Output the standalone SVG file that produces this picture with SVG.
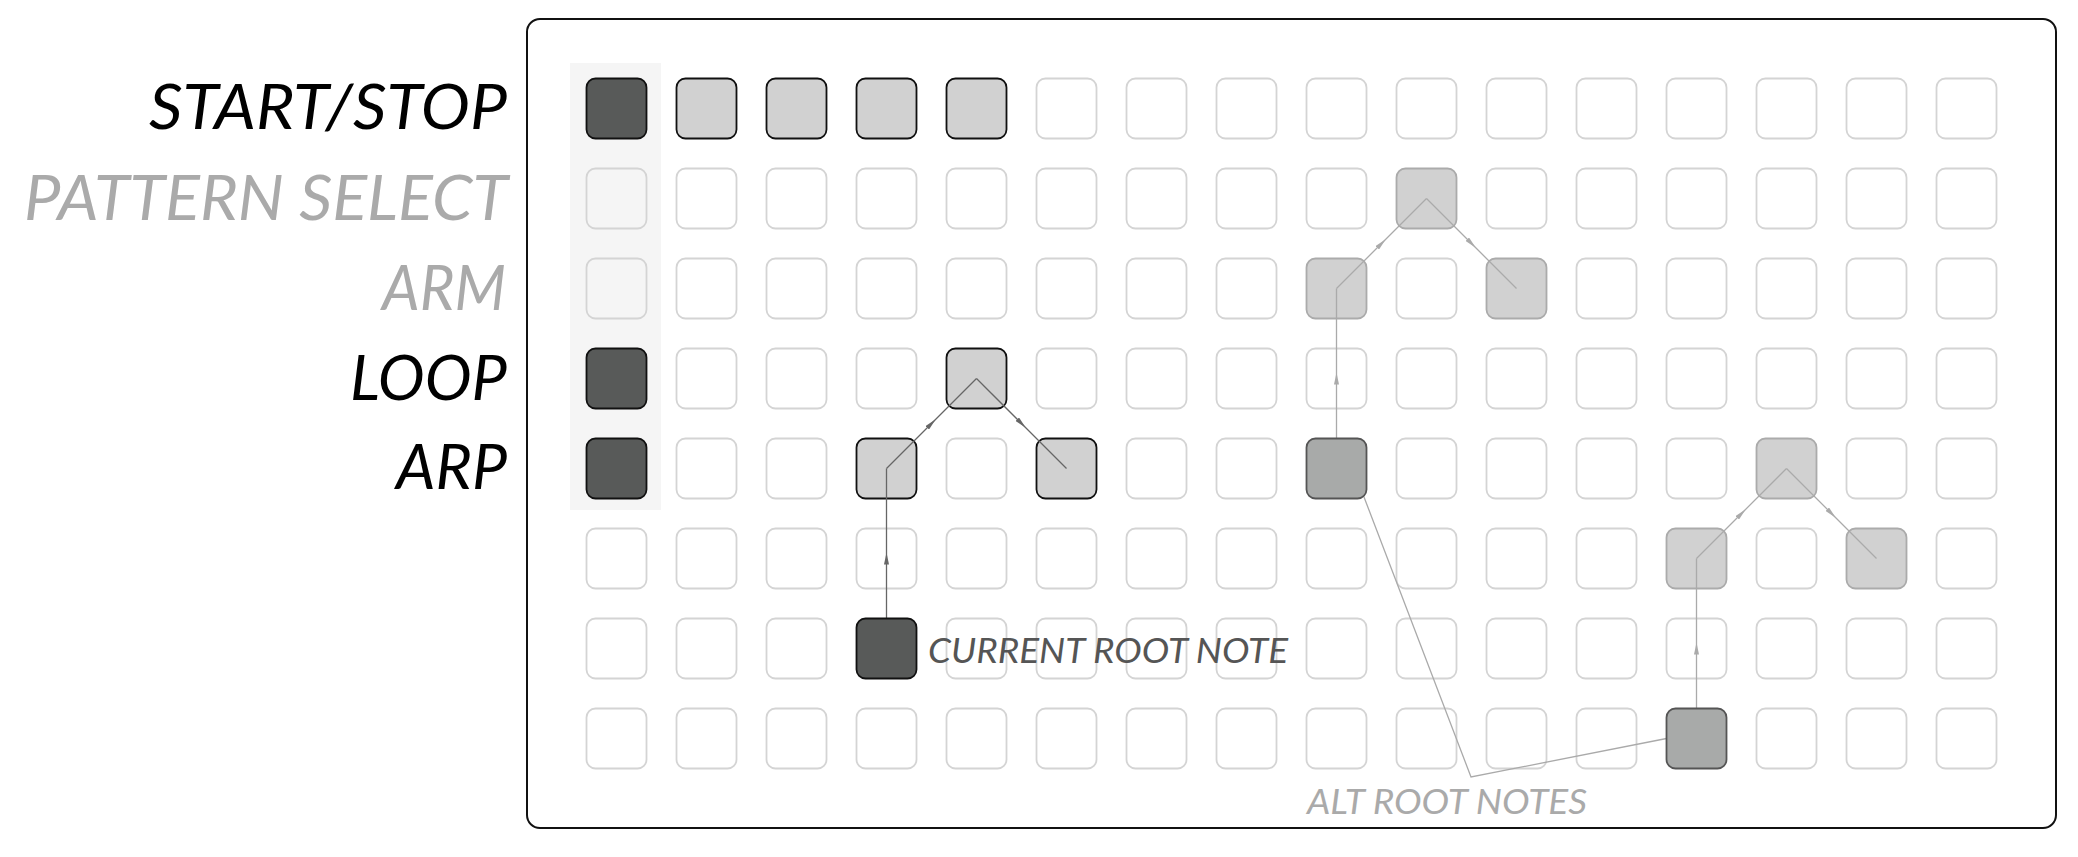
<svg xmlns="http://www.w3.org/2000/svg" xmlns:xlink="http://www.w3.org/1999/xlink" width="2078" height="857" viewBox="0 0 2078 857">
<style>
.lbl{font-family:"Lato","Open Sans","Liberation Sans",sans-serif;font-style:italic;font-weight:400}
.big{font-size:62px}
.small{font-size:34px}
.empty{fill:none;stroke:#d4d4d4;stroke-width:1.8}
.dark{fill:#585a59;stroke:#111;stroke-width:1.8}
.lite{fill:#d1d1d1;stroke:#111;stroke-width:1.8}
.liteg{fill:#d1d1d1;stroke:#ababab;stroke-width:1.8}
.rootg{fill:#a8aaa9;stroke:#555;stroke-width:1.8}
.ln{fill:none;stroke:#666;stroke-width:1.3}
.lng{fill:none;stroke:#aaa;stroke-width:1.3}
</style>
<defs>
<rect id="c" width="60" height="60" rx="9"/>
<marker id="ad" viewBox="0 0 12 5" refX="6" refY="2.5" markerWidth="12" markerHeight="5" markerUnits="userSpaceOnUse" orient="auto"><path d="M0,0 L12,2.5 L0,5 z" fill="#666"/></marker>
<marker id="ag" viewBox="0 0 12 5" refX="6" refY="2.5" markerWidth="12" markerHeight="5" markerUnits="userSpaceOnUse" orient="auto"><path d="M0,0 L12,2.5 L0,5 z" fill="#aaa"/></marker>
</defs>
<rect width="2078" height="857" fill="#fff"/>
<rect id="frame" x="527" y="19" width="1529" height="809" rx="13" fill="#fff" stroke="#111" stroke-width="2"/>
<rect id="modecol" x="570" y="63" width="91" height="447" fill="#f5f5f5"/>

<g id="labels" class="lbl">
<text class="big" x="507" y="129" text-anchor="end" fill="#000" textLength="358" lengthAdjust="spacingAndGlyphs">START/STOP</text>
<text class="big" x="508" y="220" text-anchor="end" fill="#aaa" textLength="484" lengthAdjust="spacingAndGlyphs">PATTERN SELECT</text>
<text class="big" x="506" y="310" text-anchor="end" fill="#aaa" textLength="124" lengthAdjust="spacingAndGlyphs">ARM</text>
<text class="big" x="507" y="400" text-anchor="end" fill="#000" textLength="157" lengthAdjust="spacingAndGlyphs">LOOP</text>
<text class="big" x="507" y="489" text-anchor="end" fill="#000" textLength="111" lengthAdjust="spacingAndGlyphs">ARP</text>
</g>

<g id="grid" class="empty">
<use href="#c" x="1036.5" y="78.5"/><use href="#c" x="1126.5" y="78.5"/><use href="#c" x="1216.5" y="78.5"/><use href="#c" x="1306.5" y="78.5"/><use href="#c" x="1396.5" y="78.5"/><use href="#c" x="1486.5" y="78.5"/><use href="#c" x="1576.5" y="78.5"/><use href="#c" x="1666.5" y="78.5"/><use href="#c" x="1756.5" y="78.5"/><use href="#c" x="1846.5" y="78.5"/><use href="#c" x="1936.5" y="78.5"/>
<use href="#c" x="586.5" y="168.5"/><use href="#c" x="676.5" y="168.5"/><use href="#c" x="766.5" y="168.5"/><use href="#c" x="856.5" y="168.5"/><use href="#c" x="946.5" y="168.5"/><use href="#c" x="1036.5" y="168.5"/><use href="#c" x="1126.5" y="168.5"/><use href="#c" x="1216.5" y="168.5"/><use href="#c" x="1306.5" y="168.5"/><use href="#c" x="1486.5" y="168.5"/><use href="#c" x="1576.5" y="168.5"/><use href="#c" x="1666.5" y="168.5"/><use href="#c" x="1756.5" y="168.5"/><use href="#c" x="1846.5" y="168.5"/><use href="#c" x="1936.5" y="168.5"/>
<use href="#c" x="586.5" y="258.5"/><use href="#c" x="676.5" y="258.5"/><use href="#c" x="766.5" y="258.5"/><use href="#c" x="856.5" y="258.5"/><use href="#c" x="946.5" y="258.5"/><use href="#c" x="1036.5" y="258.5"/><use href="#c" x="1126.5" y="258.5"/><use href="#c" x="1216.5" y="258.5"/><use href="#c" x="1396.5" y="258.5"/><use href="#c" x="1576.5" y="258.5"/><use href="#c" x="1666.5" y="258.5"/><use href="#c" x="1756.5" y="258.5"/><use href="#c" x="1846.5" y="258.5"/><use href="#c" x="1936.5" y="258.5"/>
<use href="#c" x="676.5" y="348.5"/><use href="#c" x="766.5" y="348.5"/><use href="#c" x="856.5" y="348.5"/><use href="#c" x="1036.5" y="348.5"/><use href="#c" x="1126.5" y="348.5"/><use href="#c" x="1216.5" y="348.5"/><use href="#c" x="1306.5" y="348.5"/><use href="#c" x="1396.5" y="348.5"/><use href="#c" x="1486.5" y="348.5"/><use href="#c" x="1576.5" y="348.5"/><use href="#c" x="1666.5" y="348.5"/><use href="#c" x="1756.5" y="348.5"/><use href="#c" x="1846.5" y="348.5"/><use href="#c" x="1936.5" y="348.5"/>
<use href="#c" x="676.5" y="438.5"/><use href="#c" x="766.5" y="438.5"/><use href="#c" x="946.5" y="438.5"/><use href="#c" x="1126.5" y="438.5"/><use href="#c" x="1216.5" y="438.5"/><use href="#c" x="1396.5" y="438.5"/><use href="#c" x="1486.5" y="438.5"/><use href="#c" x="1576.5" y="438.5"/><use href="#c" x="1666.5" y="438.5"/><use href="#c" x="1846.5" y="438.5"/><use href="#c" x="1936.5" y="438.5"/>
<use href="#c" x="586.5" y="528.5"/><use href="#c" x="676.5" y="528.5"/><use href="#c" x="766.5" y="528.5"/><use href="#c" x="856.5" y="528.5"/><use href="#c" x="946.5" y="528.5"/><use href="#c" x="1036.5" y="528.5"/><use href="#c" x="1126.5" y="528.5"/><use href="#c" x="1216.5" y="528.5"/><use href="#c" x="1306.5" y="528.5"/><use href="#c" x="1396.5" y="528.5"/><use href="#c" x="1486.5" y="528.5"/><use href="#c" x="1576.5" y="528.5"/><use href="#c" x="1756.5" y="528.5"/><use href="#c" x="1936.5" y="528.5"/>
<use href="#c" x="586.5" y="618.5"/><use href="#c" x="676.5" y="618.5"/><use href="#c" x="766.5" y="618.5"/><use href="#c" x="946.5" y="618.5"/><use href="#c" x="1036.5" y="618.5"/><use href="#c" x="1126.5" y="618.5"/><use href="#c" x="1216.5" y="618.5"/><use href="#c" x="1306.5" y="618.5"/><use href="#c" x="1396.5" y="618.5"/><use href="#c" x="1486.5" y="618.5"/><use href="#c" x="1576.5" y="618.5"/><use href="#c" x="1666.5" y="618.5"/><use href="#c" x="1756.5" y="618.5"/><use href="#c" x="1846.5" y="618.5"/><use href="#c" x="1936.5" y="618.5"/>
<use href="#c" x="586.5" y="708.5"/><use href="#c" x="676.5" y="708.5"/><use href="#c" x="766.5" y="708.5"/><use href="#c" x="856.5" y="708.5"/><use href="#c" x="946.5" y="708.5"/><use href="#c" x="1036.5" y="708.5"/><use href="#c" x="1126.5" y="708.5"/><use href="#c" x="1216.5" y="708.5"/><use href="#c" x="1306.5" y="708.5"/><use href="#c" x="1396.5" y="708.5"/><use href="#c" x="1486.5" y="708.5"/><use href="#c" x="1576.5" y="708.5"/><use href="#c" x="1756.5" y="708.5"/><use href="#c" x="1846.5" y="708.5"/><use href="#c" x="1936.5" y="708.5"/>
</g>

<g id="node-start" class="dark"><use href="#c" x="586.5" y="78.5"/></g>
<g id="node-pattern-1" class="lite"><use href="#c" x="676.5" y="78.5"/></g>
<g id="node-pattern-2" class="lite"><use href="#c" x="766.5" y="78.5"/></g>
<g id="node-pattern-3" class="lite"><use href="#c" x="856.5" y="78.5"/></g>
<g id="node-pattern-4" class="lite"><use href="#c" x="946.5" y="78.5"/></g>
<g id="node-loop" class="dark"><use href="#c" x="586.5" y="348.5"/></g>
<g id="node-arp" class="dark"><use href="#c" x="586.5" y="438.5"/></g>
<g id="node-a1" class="lite"><use href="#c" x="856.5" y="438.5"/></g>
<g id="node-a2" class="lite"><use href="#c" x="946.5" y="348.5"/></g>
<g id="node-a3" class="lite"><use href="#c" x="1036.5" y="438.5"/></g>
<g id="node-b1" class="liteg"><use href="#c" x="1306.5" y="258.5"/></g>
<g id="node-b2" class="liteg"><use href="#c" x="1396.5" y="168.5"/></g>
<g id="node-b3" class="liteg"><use href="#c" x="1486.5" y="258.5"/></g>
<g id="node-c1" class="liteg"><use href="#c" x="1666.5" y="528.5"/></g>
<g id="node-c2" class="liteg"><use href="#c" x="1756.5" y="438.5"/></g>
<g id="node-c3" class="liteg"><use href="#c" x="1846.5" y="528.5"/></g>

<g id="connectors">
<path class="ln" d="M886.5,648.5 L886.5,558.5 L886.5,468.5" marker-mid="url(#ad)"/>
<path class="ln" d="M886.5,468.5 L931.5,423.5 L976.5,378.5" marker-mid="url(#ad)"/>
<path class="ln" d="M976.5,378.5 L1021.5,423.5 L1066.5,468.5" marker-mid="url(#ad)"/>
<path class="lng" d="M1336.5,468.5 L1336.5,378.5 L1336.5,288.5" marker-mid="url(#ag)"/>
<path class="lng" d="M1336.5,288.5 L1381.5,243.5 L1426.5,198.5" marker-mid="url(#ag)"/>
<path class="lng" d="M1426.5,198.5 L1471.5,243.5 L1516.5,288.5" marker-mid="url(#ag)"/>
<path class="lng" d="M1696.5,738.5 L1696.5,648.5 L1696.5,558.5" marker-mid="url(#ag)"/>
<path class="lng" d="M1696.5,558.5 L1741.5,513.5 L1786.5,468.5" marker-mid="url(#ag)"/>
<path class="lng" d="M1786.5,468.5 L1831.5,513.5 L1876.5,558.5" marker-mid="url(#ag)"/>
<polyline class="lng" points="1364,497 1471,777 1666.5,738.5"/>
</g>

<g id="node-root" class="dark"><use href="#c" x="856.5" y="618.5"/></g>
<g id="node-alt-root-1" class="rootg"><use href="#c" x="1306.5" y="438.5"/></g>
<g id="node-alt-root-2" class="rootg"><use href="#c" x="1666.5" y="708.5"/></g>

<g id="annotations" class="lbl small">
<text x="928" y="663" fill="#555" textLength="360" lengthAdjust="spacingAndGlyphs">CURRENT ROOT NOTE</text>
<text x="1307" y="814" fill="#aaa" textLength="280" lengthAdjust="spacingAndGlyphs">ALT ROOT NOTES</text>
</g>
</svg>
